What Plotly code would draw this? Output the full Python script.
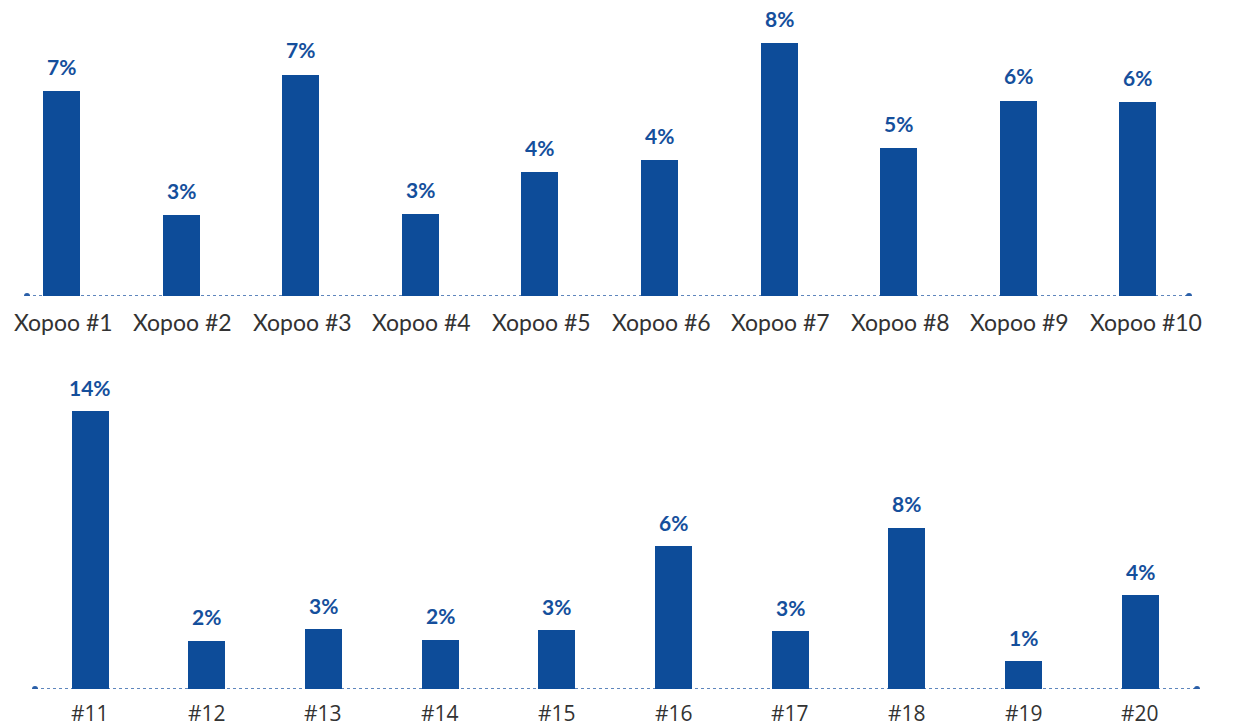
import plotly.graph_objects as go

# ---- data ----
top_categories = ["Xopoo #1", "Xopoo #2", "Xopoo #3", "Xopoo #4", "Xopoo #5",
                  "Xopoo #6", "Xopoo #7", "Xopoo #8", "Xopoo #9", "Xopoo #10"]
top_values = [6.48, 2.56, 6.99, 2.59, 3.92, 4.30, 8.00, 4.68, 6.17, 6.13]
top_labels = ["7%", "3%", "7%", "3%", "4%", "4%", "8%", "5%", "6%", "6%"]

bottom_categories = ["#11", "#12", "#13", "#14", "#15",
                     "#16", "#17", "#18", "#19", "#20"]
bottom_values = [14.0, 2.42, 3.02, 2.47, 2.97, 7.20, 2.92, 8.11, 1.41, 4.73]
bottom_labels = ["14%", "2%", "3%", "2%", "3%", "6%", "3%", "8%", "1%", "4%"]

# ---- style ----
W, H = 1242, 727
BAR = "#0D4C99"
LBL = "#154F9C"
LINE = "#2A5FA8"
TXT = "#333333"

def py(px):  # pixel y (from top) -> paper
    return 1 - px / H

def px_(x):
    return x / W

fig = go.Figure()

fig.add_trace(go.Bar(x=top_categories, y=top_values, marker_color=BAR,
                     marker_line_width=0, width=0.31, xaxis="x", yaxis="y",
                     hoverinfo="skip"))
fig.add_trace(go.Bar(x=bottom_categories, y=bottom_values, marker_color=BAR,
                     marker_line_width=0, width=0.317, xaxis="x2", yaxis="y2",
                     hoverinfo="skip"))

annotations = []
for c, v, t in zip(top_categories, top_values, top_labels):
    annotations.append(dict(x=c, y=v, xref="x", yref="y", text=t, showarrow=False,
                            yanchor="middle", yshift=25,
                            font=dict(family="Lato", size=21, color=LBL, weight="bold")))
    annotations.append(dict(x=c, y=0, xref="x", yref="y", text=c, showarrow=False,
                            xanchor="left", yanchor="middle", xshift=-50, yshift=-26,
                            font=dict(family="Lato", size=23, color=TXT)))
for c, v, t in zip(bottom_categories, bottom_values, bottom_labels):
    annotations.append(dict(x=c, y=v, xref="x2", yref="y2", text=t, showarrow=False,
                            yanchor="middle", yshift=24,
                            font=dict(family="Lato", size=21, color=LBL, weight="bold")))
    annotations.append(dict(x=c, y=0, xref="x2", yref="y2", text=c, showarrow=False,
                            xanchor="center", yanchor="middle", yshift=-24,
                            font=dict(family="Open Sans", size=21, color=TXT)))

shapes = []
for (x0, x1, yr) in [(27, 1189, "y"), (35, 1197, "y2")]:
    shapes.append(dict(type="line", xref="paper", yref=yr, x0=px_(x0), x1=px_(x1),
                       y0=0, y1=0, line=dict(color=LINE, width=1.5, dash="dot"),
                       layer="below"))
    for xe in (x0, x1):
        shapes.append(dict(type="circle", xref="paper", yref=yr,
                           xsizemode="pixel", ysizemode="pixel",
                           xanchor=px_(xe), yanchor=0, x0=-3, x1=3, y0=-3, y1=3,
                           fillcolor=LINE, line=dict(width=0), layer="below"))

top_R = 8.0 * 296 / 253
bot_R = 14.0 * (689 - 330) / 278

fig.update_layout(
    width=W, height=H,
    margin=dict(l=0, r=0, t=0, b=0),
    paper_bgcolor="white", plot_bgcolor="white",
    showlegend=False,
    xaxis=dict(domain=[px_(1.7), px_(1197.7)], anchor="y", range=[-0.5, 9.5],
               showticklabels=False, showgrid=False, zeroline=False, showline=False,
               ticks=""),
    yaxis=dict(domain=[py(296), 1.0], anchor="x", range=[0, top_R],
               visible=False),
    xaxis2=dict(domain=[px_(31.7), px_(1198.7)], anchor="y2", range=[-0.5, 9.5],
                showticklabels=False, showgrid=False, zeroline=False, showline=False,
                ticks=""),
    yaxis2=dict(domain=[py(689), py(330)], anchor="x2", range=[0, bot_R],
                visible=False),
    annotations=annotations,
    shapes=shapes,
    bargap=0,
)

fig.write_html("out.html",
               config={"displayModeBar": False, "staticPlot": True},
               post_script="document.body.style.margin='0px';"
                           "document.body.style.overflow='hidden';")
